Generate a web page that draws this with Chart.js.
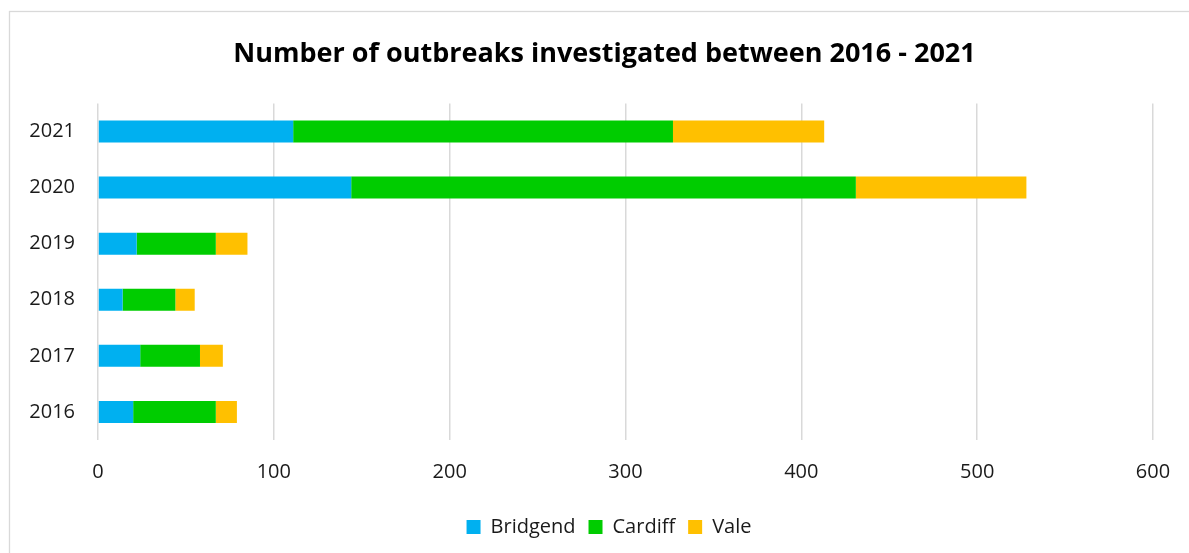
<!DOCTYPE html>
<html>
<head>
<meta charset="utf-8">
<title>Number of outbreaks investigated between 2016 - 2021</title>
<script src="https://cdn.jsdelivr.net/npm/chart.js@4/dist/chart.umd.min.js"></script>
<style>
  html, body { margin: 0; padding: 0; background: #ffffff; overflow: hidden; }
  #wrap { width: 1218px; height: 553px; }
</style>
</head>
<body>
<div id="wrap"><canvas id="chart" width="1218" height="553"></canvas></div>
<script>
// Outbreaks investigated per year, by area
const years = ['2016', '2017', '2018', '2019', '2020', '2021'];
const bridgend = [20, 24, 14, 22, 144, 111];
const cardiff = [47, 34, 30, 45, 287, 216];
const vale = [12, 13, 11, 18, 97, 86];
const xTicks = [0, 100, 200, 300, 400, 500, 600];

const FONT = '"Open Sans", "DejaVu Sans", sans-serif';

// Light frame around the chart area
const framePlugin = {
  id: 'frame',
  beforeDraw(chart) {
    const ctx = chart.ctx;
    ctx.save();
    ctx.fillStyle = '#ffffff';
    ctx.fillRect(0, 0, chart.width, chart.height);
    ctx.strokeStyle = '#d9d9d9';
    ctx.lineWidth = 1.3;
    ctx.strokeRect(9.5, 11.5, chart.width + 20, chart.height + 20);
    ctx.restore();
  }
};

// Centre the title and legend over the whole chart block rather than the plot
const centrePlugin = {
  id: 'centreBlocks',
  afterLayout(chart) {
    const right = chart.chartArea.right;
    if (chart.titleBlock) { chart.titleBlock.left = 56; chart.titleBlock.right = right; }
    if (chart.legend) { chart.legend.left = 65; chart.legend.right = right; }
  }
};

new Chart(document.getElementById('chart'), {
  type: 'bar',
  data: {
    labels: years,
    datasets: [
      { label: 'Bridgend', data: bridgend, backgroundColor: '#00B0F0' },
      { label: 'Cardiff', data: cardiff, backgroundColor: '#00CC00' },
      { label: 'Vale', data: vale, backgroundColor: '#FFC000' }
    ]
  },
  options: {
    indexAxis: 'y',
    responsive: false,
    animation: false,
    devicePixelRatio: 1,
    barPercentage: 0.393,
    categoryPercentage: 1,
    layout: { padding: { left: 6, right: 65, top: 0, bottom: 6 } },
    scales: {
      x: {
        stacked: true,
        min: 0,
        max: 600,
        afterBuildTicks(scale) { scale.ticks = xTicks.map(v => ({ value: v })); },
        grid: { color: '#d9d9d9', lineWidth: 1.5, drawTicks: false },
        border: { display: false },
        ticks: { color: '#1a1a1a', padding: 20, font: { family: FONT, size: 20 } }
      },
      y: {
        stacked: true,
        reverse: true,
        afterFit(scale) { scale.width = 92; },
        grid: { display: false, drawTicks: false },
        border: { display: false },
        ticks: { color: '#1a1a1a', padding: 23, font: { family: FONT, size: 20 } }
      }
    },
    plugins: {
      title: {
        display: true,
        text: 'Number of outbreaks investigated between 2016 - 2021',
        color: '#000000',
        font: { family: FONT, size: 27, weight: 'bold' },
        padding: { top: 38, bottom: 33 }
      },
      legend: {
        position: 'bottom',
        labels: {
          boxWidth: 14,
          boxHeight: 14,
          padding: 13,
          color: '#1a1a1a',
          font: { family: FONT, size: 20 }
        }
      },
      tooltip: { enabled: false }
    }
  },
  plugins: [framePlugin, centrePlugin]
});
</script>
</body>
</html>
